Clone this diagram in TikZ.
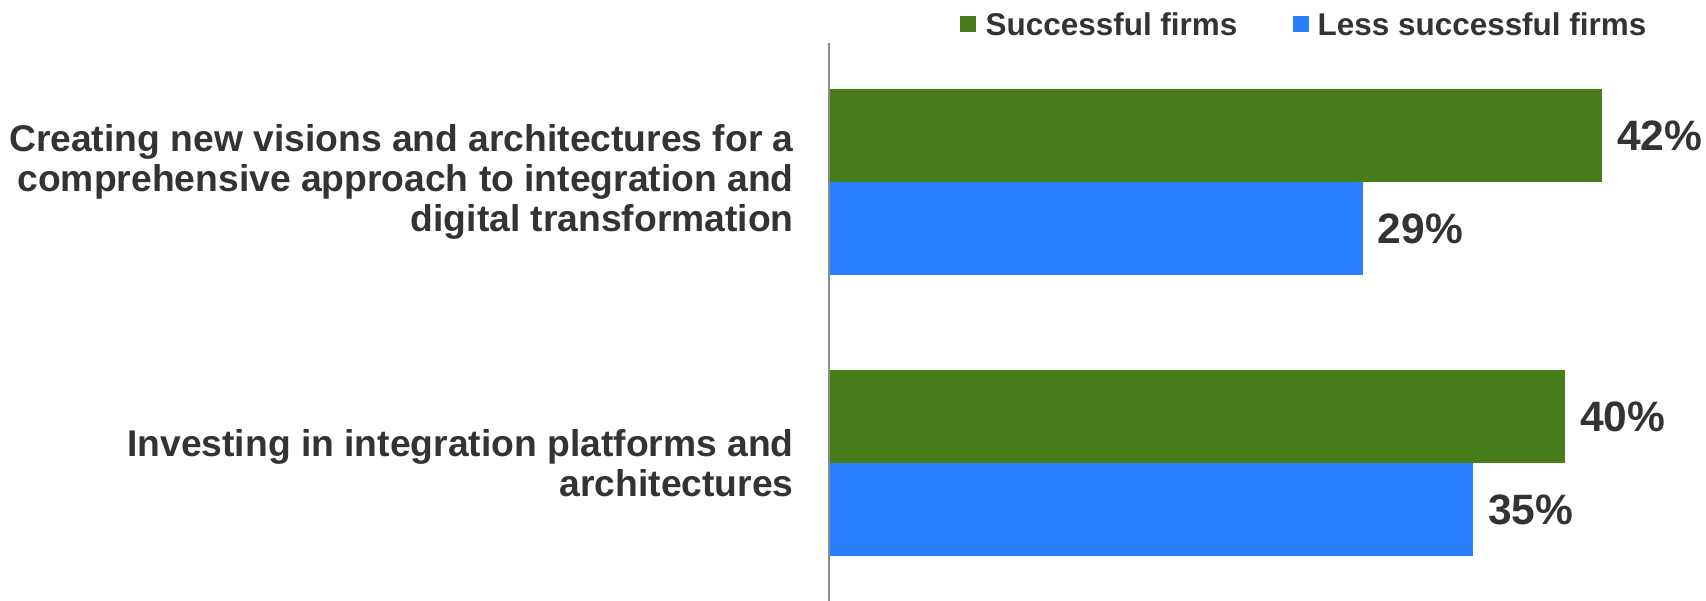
\documentclass[tikz,border=0pt]{standalone}
\usepackage{fontspec}
\setmainfont{Liberation Sans}
\usetikzlibrary{positioning}

\definecolor{firmgreen}{HTML}{487D1C}
\definecolor{firmblue}{HTML}{2A7FFF}
\definecolor{labelgray}{HTML}{333333}
\definecolor{axisgray}{HTML}{8C8C8C}

\tikzset{
  bar/.style={anchor=north west, minimum height=1.86cm, inner sep=0pt, outer sep=0pt},
  cat/.style={align=right, anchor=east, inner sep=0pt, text=labelgray,
              font=\fontsize{21.2}{22.8}\selectfont\bfseries},
  pct/.style={inner sep=0pt, text=labelgray, font=\fontsize{24.2}{29}\selectfont\bfseries},
  key/.style={inner sep=0pt, text=labelgray, font=\fontsize{17.9}{20}\selectfont\bfseries},
  swatch/.style={minimum size=0.32cm, inner sep=0pt}
}

\begin{document}
\begin{tikzpicture}[x=0.02cm, y=-0.02cm]
    \useasboundingbox (0,0) rectangle (1706,601);

    % legend
    \node[swatch, fill=firmgreen] (keys) at (968,24) {};
    \node[key, right=0.18cm of keys] (keystext) {Successful firms};
    \node[swatch, fill=firmblue] (keyl) at (1301,24) {};
    \node[key, right=0.16cm of keyl] (keyltext) {Less successful firms};

    % bars
    \node[bar, fill=firmgreen, minimum width=42*0.368cm] (s1) at (829,89) {};
    \node[bar, fill=firmblue, minimum width=29*0.368cm] (l1) at (s1.south west) {};
    \node[bar, fill=firmgreen, minimum width=40*0.368cm] (s2) at (829,370) {};
    \node[bar, fill=firmblue, minimum width=35*0.368cm] (l2) at (s2.south west) {};

    % values
    \node[pct, right=0.3cm of s1] (vs1) {42\%};
    \node[pct, right=0.3cm of l1] (vl1) {29\%};
    \node[pct, right=0.3cm of s2] (vs2) {40\%};
    \node[pct, right=0.3cm of l2] (vl2) {35\%};

    % axis
    \coordinate (axtop) at (829,43);
    \coordinate (axbot) at (829,601);
    \draw[axisgray, line width=1.2pt] (axtop) -- (axbot);

    % categories
    \node[cat] (c1) at (794,182) {Creating new visions and architectures for a\\
        comprehensive approach to integration and\\digital transformation};
    \node[cat] (c2) at (794,463) {Investing in integration platforms and\\architectures};
\end{tikzpicture}
\end{document}
